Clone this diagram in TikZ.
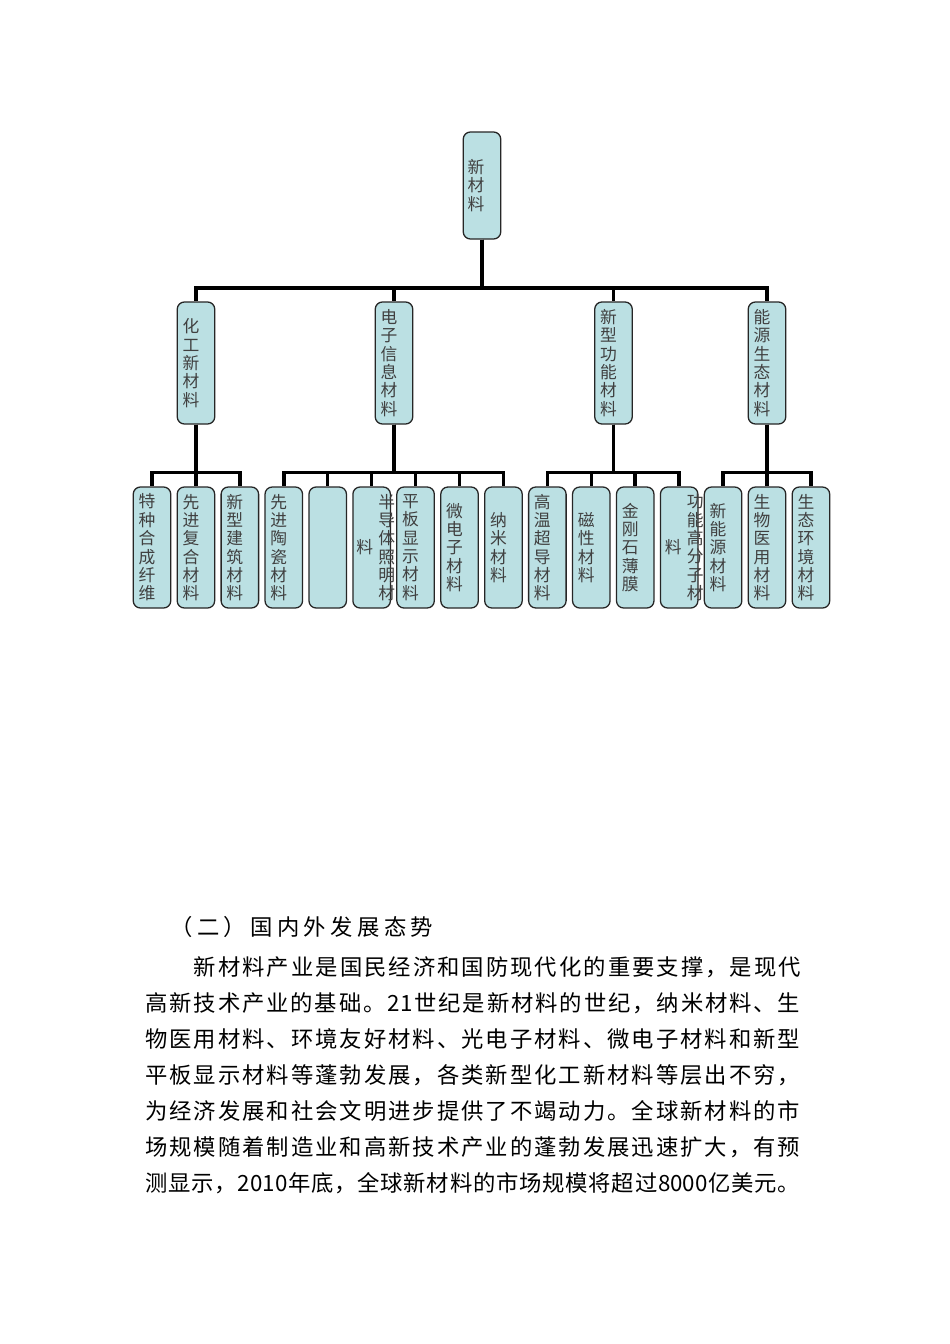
\documentclass[tikz,border=0pt]{standalone}
\usepackage{fontspec}
\setmainfont{Noto Sans CJK SC}
\definecolor{boxcyan}{RGB}{187,224,227}
\newlength\pxu \setlength\pxu{0.6266pt}
\makeatletter
\newcommand\spreadtext[1]{\def\sp@first{1}\@tfor\sp@c:=#1\do{\ifx\sp@first\@empty\hfil\fi\sp@c\let\sp@first\@empty}}
\makeatother
\tikzset{
  cell/.style={draw=black!85,line width=.8pt,rounded corners=4.5pt,fill=boxcyan,minimum width=37.5\pxu,inner sep=0pt},
  vtext/.style={align=center,text=black!75,font=\fontsize{10.5}{11.5}\selectfont,inner sep=0pt},
  bus/.style={line width=2.2pt},
  bodyline/.style={anchor=base west,inner sep=0pt,font=\fontsize{14}{16}\selectfont}
}
\begin{document}
\begin{tikzpicture}[x=0.6266pt,y=-0.6266pt]
\useasboundingbox[fill=white] (0,0) rectangle (950,1344);
\node[cell,minimum height=107\pxu] (root) at (482,185.5) {};
\foreach \n/\x in {m1/196,m2/394,m3/613.5,m4/767}{\node[cell,minimum height=122\pxu] (\n) at (\x,363) {};}
\foreach \i in {1,...,16}{\node[cell,minimum height=121\pxu] (c\i) at ({152+43.93*(\i-1)},547.5) {};}
\coordinate (bus1) at (482,288);
\coordinate (bus2) at (0,472.7);
\foreach \m in {m1,m2,m3,m4}{\draw[bus] (root.south) -- (bus1) -| (\m.north);}
\foreach \m/\a/\b in {m1/1/3,m2/4/9,m3/10/13,m4/14/16}{\foreach \i in {\a,...,\b}{\draw[bus] (\m.south) -- (\m.south |- bus2) -| (c\i.north);}}
\node[vtext] (troot) at ([xshift=-6\pxu]root.center) {新\\材\\料};
\foreach \n/\t in {m1/{化\\工\\新\\材\\料},m2/{电\\子\\信\\息\\材\\料},m3/{新\\型\\功\\能\\材\\料},m4/{能\\源\\生\\态\\材\\料}}{\node[vtext] (t\n) at ([xshift=-5\pxu]\n.center) {\t};}
\foreach \i/\t in {1/{特\\种\\合\\成\\纤\\维},2/{先\\进\\复\\合\\材\\料},3/{新\\型\\建\\筑\\材\\料},4/{先\\进\\陶\\瓷\\材\\料},7/{平\\板\\显\\示\\材\\料},8/{微\\电\\子\\材\\料},9/{纳\\米\\材\\料},10/{高\\温\\超\\导\\材\\料},11/{磁\\性\\材\\料},12/{金\\刚\\石\\薄\\膜},14/{新\\能\\源\\材\\料},15/{生\\物\\医\\用\\材\\料},16/{生\\态\\环\\境\\材\\料}}{\node[vtext] (tc\i) at ([xshift=-5\pxu]c\i.center) {\t};}
\node[vtext] (tc6a) at ([xshift=-7\pxu]c6.center) {料};
\node[vtext] (tc6b) at ([xshift=15\pxu]c6.center) {半\\导\\体\\照\\明\\材};
\node[vtext] (tc13a) at ([xshift=-6\pxu]c13.center) {料};
\node[vtext] (tc13b) at ([xshift=16\pxu]c13.center) {功\\能\\高\\分\\子\\材};
\foreach \n/\x/\y/\w/\t in {head/170/935/263/{（二）国内外发展态势},l1/193.6/975/607/{新材料产业是国民经济和国防现代化的重要支撑，是现代},l2/145/1011/655/{高新技术产业的基础。{21}世纪是新材料的世纪，纳米材料、生},l3/145/1047/655/{物医用材料、环境友好材料、光电子材料、微电子材料和新型},l4/145/1083/655/{平板显示材料等蓬勃发展，各类新型化工新材料等层出不穷，},l5/145/1119/655/{为经济发展和社会文明进步提供了不竭动力。全球新材料的市},l6/145/1155/655/{场规模随着制造业和高新技术产业的蓬勃发展迅速扩大，有预},l7/145/1191/655/{测显示，{2010}年底，全球新材料的市场规模将超过{8000}亿美元。}}{\node[bodyline] (\n) at (\x,\y) {\hbox to \w\pxu{\expandafter\spreadtext\expandafter{\t}}};}
\end{tikzpicture}
\end{document}
